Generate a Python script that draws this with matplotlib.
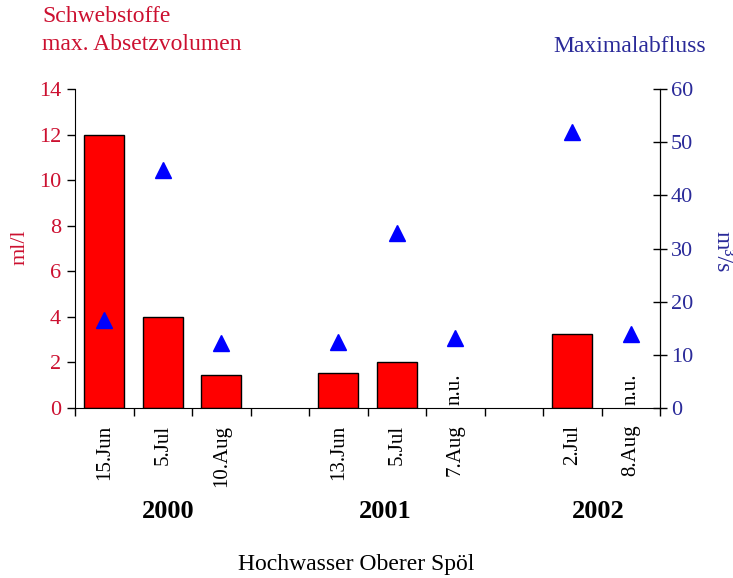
import numpy as np
import matplotlib.pyplot as plt

plt.rcParams['font.family'] = ['Liberation Serif', 'DejaVu Serif']

dates = ['15.Jun', '5.Jul', '10.Aug', '13.Jun', '5.Jul', '7.Aug', '2.Jul', '8.Aug']
slots = [0, 1, 2, 4, 5, 6, 8, 9]
volumen = [12.0, 4.0, 1.45, 1.55, 2.0, np.nan, 3.25, np.nan]
abfluss = [16.5, 44.8, 12.2, 12.5, 32.9, 13.2, 52.0, 13.9]
years = ['2000', '2001', '2002']
year_pos = [1.1, 4.8, 8.45]

red = '#cc1030'
blue = '#2a2a99'

fig = plt.figure(figsize=(7.33, 5.78), dpi=100)
ax = fig.add_axes([75/733, 1-408/578, 585/733, 319/578])
ax2 = ax.twinx()

ax.bar(slots, volumen, width=0.68, color='#ff0000', edgecolor='black', linewidth=1, zorder=2)
ax2.plot(slots, abfluss, linestyle='none', marker='^', markersize=11, color='#0000ff', zorder=3)

for s, v in zip(slots, volumen):
    if np.isnan(v):
        ax.text(s, 0.15, 'n.u.', rotation=90, ha='center', va='bottom', fontsize=15)

ax.set_xlim(-0.5, 9.5)
ax.set_ylim(0, 14)
ax2.set_ylim(0, 60)
ax.set_yticks(range(0, 15, 2))
ax2.set_yticks(range(0, 61, 10))

ax.set_xticks(slots)
ax.set_xticklabels(dates, rotation=90, fontsize=15)
ax.set_xticks(np.arange(-0.5, 10, 1), minor=True)
ax.tick_params(axis='x', which='major', length=0, pad=12)
ax.tick_params(axis='x', which='minor', length=6, direction='out', width=1)
ax.tick_params(axis='y', colors='black', labelcolor=red, labelsize=16, length=6, direction='out', width=1, pad=4)
ax2.tick_params(axis='y', colors='black', labelcolor=blue, labelsize=16, length=10, direction='inout', width=1, pad=3)

ax.spines['top'].set_visible(False)
ax2.spines['top'].set_visible(False)
ax2.spines['left'].set_visible(False)
ax2.spines['bottom'].set_visible(False)

for y, p in zip(years, year_pos):
    ax.text(p, -0.325, y, transform=ax.get_xaxis_transform(), ha='center', va='center',
            fontsize=19, fontweight='bold')
ax.text(0.48, -0.49, 'Hochwasser Oberer Spöl', transform=ax.transAxes, ha='center', va='center', fontsize=17)

fig.text(20/733, 1-247/578, 'ml/l', rotation=90, color=red, fontsize=16, ha='center', va='center')
fig.text(722/733, 1-252/578, 'm³/s', rotation=270, color=blue, fontsize=17, ha='center', va='center')
fig.text(42/733, 1-17/578, 'Schwebstoffe', color=red, fontsize=17, ha='left', va='center')
fig.text(42/733, 1-45/578, 'max. Absetzvolumen', color=red, fontsize=17, ha='left', va='center')
fig.text(630/733, 1-47/578, 'Maximalabfluss', color=blue, fontsize=17, ha='center', va='center')

fig.savefig('out.png', dpi=100)
